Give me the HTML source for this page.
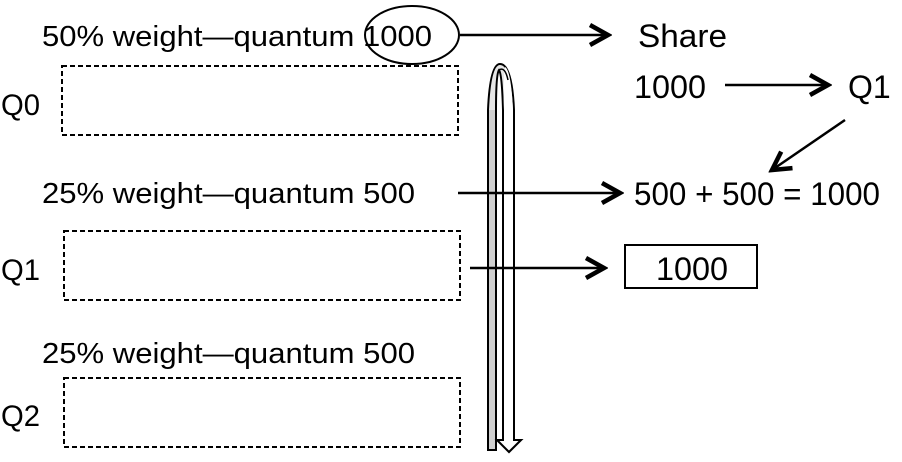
<!DOCTYPE html>
<html><head><meta charset="utf-8"><style>
body{margin:0;background:#fff;}
svg{display:block;font-family:"Liberation Sans",Arial,sans-serif;}
</style></head><body>
<svg width="902" height="462" viewBox="0 0 902 462">
<defs>
<marker id="ah2" markerWidth="24" markerHeight="24" refX="20" refY="12" orient="auto" markerUnits="userSpaceOnUse">
<path d="M2,2 L20,12 L2,22" fill="none" stroke="#000" stroke-width="4.5" stroke-linejoin="miter"/>
</marker>
</defs>
<g font-size="29" fill="#000">
<text x="42" y="46" textLength="390" lengthAdjust="spacingAndGlyphs">50% weight—quantum 1000</text>
<text x="42" y="203" textLength="373" lengthAdjust="spacingAndGlyphs">25% weight—quantum 500</text>
<text x="42" y="363" textLength="373" lengthAdjust="spacingAndGlyphs">25% weight—quantum 500</text>
<text x="1" y="115" font-size="30" textLength="39" lengthAdjust="spacingAndGlyphs">Q0</text>
<text x="1" y="280" font-size="30" textLength="39" lengthAdjust="spacingAndGlyphs">Q1</text>
<text x="1" y="426" font-size="30" textLength="39" lengthAdjust="spacingAndGlyphs">Q2</text>
</g>
<ellipse cx="412" cy="35" rx="47" ry="29" fill="none" stroke="#000" stroke-width="2"/>
<g fill="none" stroke="#000" stroke-width="2" stroke-dasharray="5,3">
<rect x="62" y="66" width="396" height="69"/>
<rect x="64" y="231" width="396" height="69"/>
<rect x="64" y="378" width="396" height="69"/>
</g>
<path d="M488,450 L488,110 Q490,64 500,64 Q512,64 514,110 L514,440 L521,440 L509,452 L497,440 L503,440 L503,110 Q502,74 499,70 Q496,74 496,110 L496,450 Z" fill="#e6e6e6" stroke="#000" stroke-width="2"/>
<rect x="489" y="110" width="6" height="339" fill="#cfcfcf"/>
<path d="M504,110 L504,441 L498.5,441 L509,450.5 L519.5,441 L513,441 L513,110 Q511,70 505,67 Q503,80 504,110 Z" fill="#fff"/>
<path d="M503,440 L503,110 M514,110 L514,440 L521,440 L509,452 L497,440 L503,440" fill="none" stroke="#000" stroke-width="2"/>
<path d="M499,70 Q505,66 508,80" fill="none" stroke="#000" stroke-width="1.5"/>
<g stroke="#000" stroke-width="2.5" fill="none">
<line x1="460" y1="35" x2="608" y2="35" marker-end="url(#ah2)"/>
<line x1="458" y1="193" x2="620" y2="193" marker-end="url(#ah2)"/>
<line x1="470" y1="268" x2="604" y2="268" marker-end="url(#ah2)"/>
<line x1="725" y1="85" x2="828" y2="85" marker-end="url(#ah2)"/>
<line x1="845" y1="120" x2="772" y2="170" marker-end="url(#ah2)"/>
</g>
<g font-size="32" fill="#000">
<text x="638" y="47" textLength="89" lengthAdjust="spacingAndGlyphs">Share</text>
<text x="634" y="98" textLength="72" lengthAdjust="spacingAndGlyphs">1000</text>
<text x="848" y="98">Q1</text>
<text x="634" y="205" textLength="246" lengthAdjust="spacingAndGlyphs">500 + 500 = 1000</text>
<text x="656" y="280" textLength="72" lengthAdjust="spacingAndGlyphs">1000</text>
</g>
<rect x="625" y="245" width="132" height="43" fill="none" stroke="#000" stroke-width="2"/>
</svg>
</body></html>
